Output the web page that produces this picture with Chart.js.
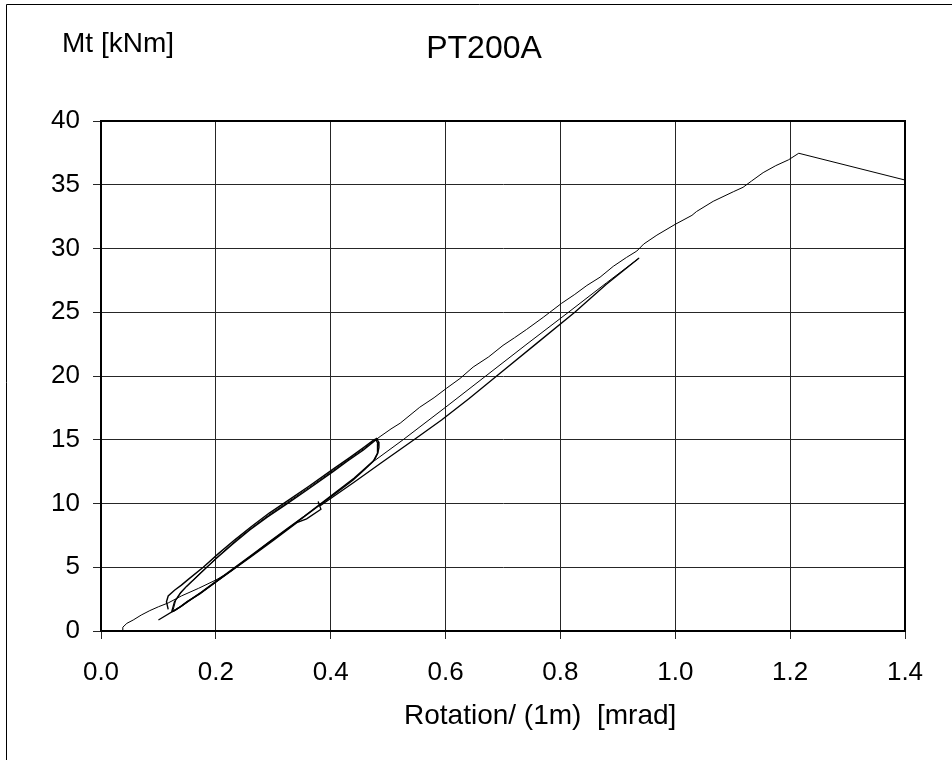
<!DOCTYPE html>
<html lang="en">
<head>
    <meta charset="UTF-8">
    <title>PT200A</title>
    <script src="https://cdn.jsdelivr.net/npm/chart.js"></script>
    <style>
        body {
            margin: 0;
            background: #fff;
        }
        canvas {
            display: block;
        }
    </style>
</head>
<body>
    <canvas id="ptChart" width="952" height="760"></canvas>

    <script>
        const chartTitle = 'PT200A';
        const yUnit = 'Mt [kNm]';
        const xTitle = 'Rotation/ (1m)  [mrad]';

        // first loading, joins the lower branch of the loops
        const firstLoadRot = [0.037, 0.038, 0.045, 0.056, 0.070, 0.085, 0.100, 0.117, 0.140, 0.170, 0.200, 0.225, 0.245, 0.265];
        const firstLoadMt  = [0.05, 0.30, 0.60, 0.86, 1.25, 1.60, 1.90, 2.20, 2.75, 3.35, 4.00, 4.65, 5.35, 6.00];

        // cycles between about 1.5 and 15 kNm
        const cycle1Rot = [0.123, 0.128, 0.138, 0.149, 0.175, 0.201, 0.230, 0.259, 0.290, 0.323, 0.360, 0.404, 0.430, 0.457, 0.472, 0.479,
                           0.482, 0.482, 0.481, 0.474, 0.460, 0.439, 0.410, 0.381, 0.352, 0.323, 0.290, 0.265, 0.236, 0.200, 0.172, 0.150, 0.138, 0.128, 0.123];
        const cycle1Mt  = [1.50, 2.30, 2.96, 3.50, 4.60, 5.70, 6.85, 7.92, 8.95, 9.95, 11.10, 12.50, 13.35, 14.20, 14.75, 15.00,
                           14.70, 14.30, 13.94, 13.30, 12.70, 11.84, 10.85, 9.88, 8.91, 7.94, 6.85, 6.00, 5.04, 3.84, 2.90, 2.30, 1.90, 1.60, 1.50];

        const cycle2Rot = [0.117, 0.114, 0.117, 0.128, 0.140, 0.152, 0.178, 0.204, 0.233, 0.262, 0.293, 0.326, 0.362, 0.406, 0.433, 0.459, 0.474, 0.480,
                           0.483, 0.484, 0.482, 0.476, 0.462, 0.441, 0.412, 0.383, 0.354, 0.325, 0.292, 0.267, 0.238, 0.202, 0.175, 0.152, 0.140, 0.130, 0.125];
        const cycle2Mt  = [1.70, 2.30, 2.75, 3.20, 3.60, 4.05, 5.00, 6.05, 7.15, 8.20, 9.25, 10.25, 11.35, 12.75, 13.60, 14.45, 14.95, 15.10,
                           14.85, 14.40, 13.95, 13.40, 12.85, 12.00, 11.00, 10.00, 9.00, 8.05, 6.95, 6.12, 5.15, 3.95, 3.05, 2.35, 1.95, 1.65, 1.55];

        // reloading to 29 kNm
        const reloadRot = [0.476, 0.526, 0.600, 0.670, 0.740, 0.814, 0.880, 0.937];
        const reloadMt  = [13.35, 15.00, 17.55, 20.00, 22.45, 25.00, 27.30, 29.25];

        // unloading from 29 kNm
        const unloadRot = [0.937, 0.880, 0.825, 0.757, 0.689, 0.640, 0.593, 0.545, 0.490, 0.440, 0.381, 0.378, 0.383, 0.358, 0.341, 0.300, 0.262, 0.222, 0.180, 0.140, 0.100];
        const unloadMt  = [29.25, 27.20, 25.00, 22.50, 20.00, 18.20, 16.55, 15.00, 13.25, 11.65, 9.80, 10.15, 9.55, 8.80, 8.50, 7.10, 5.85, 4.55, 3.20, 1.95, 0.86];

        // final loading up to failure
        const finalRot = [0.125, 0.130, 0.140, 0.152, 0.178, 0.204, 0.232, 0.261, 0.292, 0.325, 0.362, 0.405, 0.432, 0.458, 0.473, 0.480,
                          0.486, 0.505, 0.521, 0.555, 0.580, 0.602, 0.625, 0.648, 0.675, 0.700, 0.720, 0.741, 0.770, 0.802, 0.825, 0.846,
                          0.869, 0.892, 0.915, 0.933, 0.945, 0.968, 1.000, 1.029, 1.037, 1.066, 1.101, 1.118, 1.133, 1.153, 1.175, 1.197, 1.215, 1.400];
        const finalMt  = [1.55, 2.40, 3.10, 3.65, 4.75, 5.85, 7.00, 8.05, 9.10, 10.10, 11.25, 12.62, 13.48, 14.32, 14.85, 15.05,
                          15.25, 15.85, 16.30, 17.55, 18.30, 19.05, 19.80, 20.70, 21.50, 22.40, 23.00, 23.65, 24.60, 25.70, 26.40, 27.10,
                          27.75, 28.60, 29.30, 29.80, 30.35, 31.05, 31.90, 32.60, 32.90, 33.70, 34.45, 34.80, 35.30, 35.95, 36.50, 36.95, 37.47, 35.37];

        const FONT = '"Liberation Sans", Arial, sans-serif';

        function toPoints(xs, ys) {
            return xs.map((x, i) => ({ x: x, y: ys[i] }));
        }

        function series(xs, ys, width) {
            return {
                data: toPoints(xs, ys),
                showLine: true,
                borderColor: '#000',
                borderWidth: width,
                pointRadius: 0,
                tension: 0
            };
        }

        // outer frame, plot box and the free texts
        const frame = {
            id: 'frame',
            afterDraw(chart) {
                const ctx = chart.ctx;
                const a = chart.chartArea;
                ctx.save();
                ctx.strokeStyle = '#000';
                ctx.lineWidth = 2;
                ctx.strokeRect(a.left, a.top, a.right - a.left, a.bottom - a.top);

                ctx.lineWidth = 1;
                ctx.beginPath();
                ctx.moveTo(6.5, 760);
                ctx.lineTo(6.5, 4.5);
                ctx.lineTo(952, 4.5);
                ctx.stroke();

                ctx.fillStyle = '#000';
                ctx.textBaseline = 'alphabetic';
                ctx.font = '32px ' + FONT;
                ctx.textAlign = 'center';
                ctx.fillText(chartTitle, 484, 58);

                ctx.font = '28px ' + FONT;
                ctx.textAlign = 'left';
                ctx.fillText(yUnit, 62, 52);
                ctx.fillText(xTitle, 404, 724);
                ctx.restore();
            }
        };

        const ctx = document.getElementById('ptChart').getContext('2d');
        const ptChart = new Chart(ctx, {
            type: 'scatter',
            data: {
                datasets: [
                    series(firstLoadRot, firstLoadMt, 1),
                    series(cycle1Rot, cycle1Mt, 1.4),
                    series(cycle2Rot, cycle2Mt, 1.4),
                    series(reloadRot, reloadMt, 1),
                    series(unloadRot, unloadMt, 1.3),
                    series(finalRot, finalMt, 1)
                ]
            },
            options: {
                responsive: false,
                animation: false,
                layout: {
                    padding: { left: 0, top: 121, right: 47, bottom: 0 }
                },
                plugins: {
                    legend: { display: false },
                    tooltip: { enabled: false }
                },
                scales: {
                    x: {
                        type: 'linear',
                        min: 0,
                        max: 1.4,
                        afterFit: (scale) => { scale.height = 129; },
                        grid: { color: '#262626', lineWidth: 1, tickLength: 8 },
                        border: { display: true, color: '#000', width: 2 },
                        ticks: {
                            stepSize: 0.2,
                            padding: 18,
                            color: '#000',
                            font: { family: FONT, size: 26 },
                            callback: (v) => Number(v).toFixed(1)
                        }
                    },
                    y: {
                        type: 'linear',
                        min: 0,
                        max: 40,
                        afterFit: (scale) => { scale.width = 101; },
                        grid: { color: '#262626', lineWidth: 1, tickLength: 8 },
                        border: { display: true, color: '#000', width: 2 },
                        ticks: {
                            stepSize: 5,
                            padding: 13,
                            color: '#000',
                            font: { family: FONT, size: 26 }
                        }
                    }
                }
            },
            plugins: [frame]
        });
    </script>
</body>
</html>
